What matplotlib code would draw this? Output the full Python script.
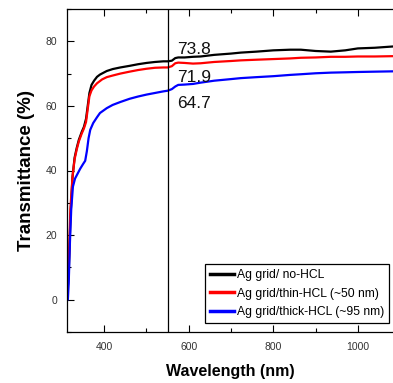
import matplotlib
matplotlib.use("Agg")
import matplotlib.pyplot as plt
from matplotlib.ticker import MultipleLocator

plt.rcParams['font.family'] = ['Liberation Sans', 'DejaVu Sans']

wl_black = [312, 316, 320, 325, 330, 335, 340, 347, 352, 357, 361, 365, 370, 376, 383, 390, 406,
            420, 438, 460, 480, 500, 520, 540, 550, 560, 568, 575, 590, 610, 628, 660, 700, 723,
            760, 800, 840, 865, 900, 936, 970, 1000, 1040, 1083]
t_black = [0, 8, 25, 38, 44, 47, 49.5, 52, 53.5, 56, 60, 64, 66.5, 67.8, 69, 69.7, 70.8,
           71.4, 71.9, 72.4, 72.9, 73.3, 73.6, 73.8, 73.8, 74.0, 74.8, 75.0, 75.0, 75.2, 75.3,
           75.8, 76.2, 76.5, 76.8, 77.2, 77.4, 77.4, 77.0, 76.8, 77.2, 77.8, 78.0, 78.4]

wl_red = [312, 316, 320, 325, 330, 335, 340, 347, 352, 357, 361, 365, 370, 376, 383, 395, 406,
          420, 438, 460, 480, 500, 520, 540, 550, 560, 568, 575, 590, 610, 628, 660, 700, 723,
          760, 800, 840, 865, 900, 936, 970, 1000, 1040, 1083]
t_red = [0, 10, 28, 38, 43.5, 46.5, 49, 51.5, 53, 55, 59, 63, 64.8, 66, 67, 68.2, 68.9,
         69.4, 70.0, 70.6, 71.1, 71.5, 71.8, 71.9, 71.9, 72.3, 73.2, 73.4, 73.3, 73.1, 73.2,
         73.6, 73.9, 74.1, 74.3, 74.5, 74.7, 74.9, 75.0, 75.2, 75.2, 75.3, 75.3, 75.4]

wl_blue = [312, 314, 316, 319, 322, 326, 331, 337, 343, 350, 355, 359, 363, 367, 374, 383, 390,
           406, 420, 438, 460, 480, 500, 520, 540, 550, 560, 568, 575, 590, 610, 628, 660, 700,
           723, 760, 800, 840, 865, 900, 936, 970, 1000, 1040, 1083]
t_blue = [0, 0, 5, 18, 28, 35, 37.5, 39, 40.5, 42, 43, 46, 50, 52.6, 54.7, 56.5, 57.8,
          59.3, 60.3, 61.2, 62.2, 62.9, 63.5, 64.0, 64.5, 64.7, 65.2, 66.0, 66.5, 66.6, 66.8,
          67.2, 67.8, 68.3, 68.6, 68.9, 69.2, 69.6, 69.8, 70.1, 70.3, 70.4, 70.5, 70.6, 70.7]

labels = ['Ag grid/ no-HCL', 'Ag grid/thin-HCL (~50 nm)', 'Ag grid/thick-HCL (~95 nm)']
colors = ['#000000', '#ff0000', '#0000ff']
marker_wl = 550
annot_vals = ['73.8', '71.9', '64.7']
annot_y = [77.5, 68.7, 60.8]

fig = plt.figure(figsize=(3.93, 3.83), dpi=100)
ax = fig.add_axes([67/393, 1 - 332/383, 326/393, 323/383])

for x, y, c, lab in zip([wl_black, wl_red, wl_blue], [t_black, t_red, t_blue], colors, labels):
    ax.plot(x, y, color=c, lw=1.6, label=lab)

ax.axvline(marker_wl, color='black', lw=0.9)

for s, yv in zip(annot_vals, annot_y):
    ax.text(573, yv, s, fontsize=12.5, ha='left', va='center', color='#111111')

ax.set_xlim(312, 1083)
ax.set_ylim(-10, 90)
ax.xaxis.set_major_locator(MultipleLocator(200))
ax.xaxis.set_minor_locator(MultipleLocator(100))
ax.yaxis.set_major_locator(MultipleLocator(20))
ax.yaxis.set_minor_locator(MultipleLocator(10))
ax.tick_params(which='both', direction='in', top=True, right=False, width=0.8,
               labelsize=7.5, labelcolor='#333333')
ax.tick_params(which='major', length=5, pad=7)
ax.tick_params(which='minor', length=3)
ax.spines['right'].set_visible(False)
for sp in ['left', 'top', 'bottom']:
    ax.spines[sp].set_linewidth(0.9)

ax.set_xlabel('Wavelength (nm)', fontsize=11.5, fontweight='bold', labelpad=9)
ax.set_ylabel('Transmittance (%)', fontsize=13.5, fontweight='bold', labelpad=8)

leg = ax.legend(loc='lower right', bbox_to_anchor=(389/393, 1 - 323/383),
                bbox_transform=fig.transFigure, fontsize=8.7, frameon=True, fancybox=False,
                edgecolor='black', framealpha=1, borderaxespad=0, borderpad=0.4,
                labelspacing=0.55, handlelength=2.0, handletextpad=0.2)
leg.get_frame().set_linewidth(0.9)
for l in leg.get_lines():
    l.set_linewidth(2.5)

fig.savefig('out.png', dpi=100)
